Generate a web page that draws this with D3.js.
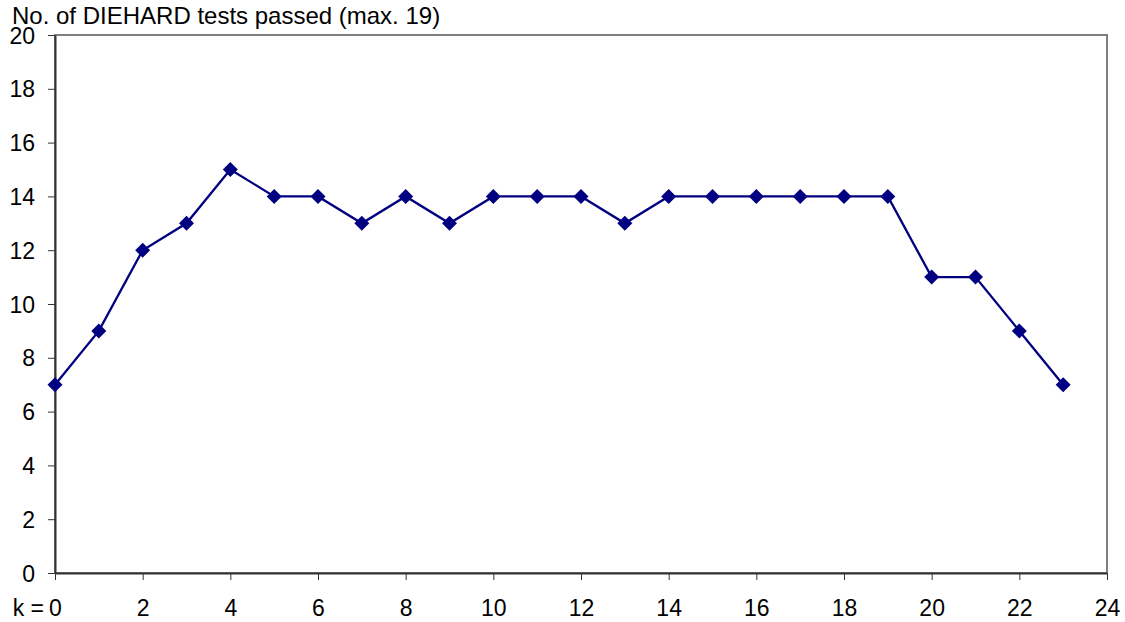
<!DOCTYPE html>
<html>
<head>
<meta charset="utf-8">
<script src="https://cdn.jsdelivr.net/npm/d3@7"></script>
<style>
  body { margin: 0; background: #fff; }
  text { font-family: "Liberation Sans", Arial, sans-serif; }
</style>
</head>
<body>
<div id="chart"></div>
<script>

// data
var kValues = [0, 1, 2, 3, 4, 5, 6, 7, 8, 9, 10, 11, 12, 13, 14, 15, 16, 17, 18, 19, 20, 21, 22, 23];
var testsPassed = [7, 9, 12, 13, 15, 14, 14, 13, 14, 13, 14, 14, 14, 13, 14, 14, 14, 14, 14, 14, 11, 11, 9, 7];
var xTicks = [0, 2, 4, 6, 8, 10, 12, 14, 16, 18, 20, 22, 24];
var yTicks = [0, 2, 4, 6, 8, 10, 12, 14, 16, 18, 20];
var yTitle = "No. of DIEHARD tests passed (max. 19)";

function init(){

    var w = 1125;
    var h = 622;
    var margin = {top: 35, right: 18, bottom: 49, left: 55};
    var fontSize = "23px";

    var svg = d3.select("#chart")
                .append("svg")
                .attr("width", w)
                .attr("height", h);

    var x = d3.scaleLinear()
              .domain([0, 24])
              .range([margin.left, w - margin.right]);

    var y = d3.scaleLinear()
              .domain([0, 20])
              .range([h - margin.bottom, margin.top]);

    // grey frame on top and right
    svg.append("rect")
        .attr("x", x(0))
        .attr("y", y(20))
        .attr("width", x(24) - x(0))
        .attr("height", y(0) - y(20))
        .attr("fill", "none")
        .attr("stroke", "#808080")
        .attr("stroke-width", 2);

    // x axis
    var xAxis = svg.append("g")
        .attr("transform", "translate(0," + y(0) + ")")
        .call(d3.axisBottom(x).tickValues(xTicks).tickSize(7).tickSizeOuter(0));

    // y axis
    var yAxis = svg.append("g")
        .attr("transform", "translate(" + x(0) + ",0)")
        .call(d3.axisLeft(y).tickValues(yTicks).tickSize(7).tickSizeOuter(0).tickPadding(13));

    [xAxis, yAxis].forEach(function(a){
        a.select(".domain").attr("stroke", "#333").attr("stroke-width", 2);
        a.selectAll(".tick line").attr("stroke", "#333").attr("stroke-width", 1);
        a.selectAll(".tick text")
            .attr("font-family", "Liberation Sans, Arial, sans-serif")
            .attr("font-size", fontSize)
            .attr("fill", "#000");
    });

    xAxis.selectAll(".tick text").attr("y", 43).attr("dy", null);
    yAxis.selectAll(".tick text").attr("dy", "0.35em");

    // "k = " before the zero on the x axis
    svg.append("text")
        .text("k =")
        .attr("x", x(0) - 11)
        .attr("y", y(0) + 43)
        .attr("text-anchor", "end")
        .attr("font-size", fontSize)
        .attr("fill", "#000");

    // title
    svg.append("text")
        .text(yTitle)
        .attr("x", 12)
        .attr("y", 23.5)
        .attr("font-size", "24px")
        .attr("fill", "#000");

    var line = d3.line()
        .x(function(d, i) { return x(kValues[i]); })
        .y(function(d) { return y(d); });

    svg.append("path")
        .datum(testsPassed)
        .attr("d", line)
        .attr("fill", "none")
        .attr("stroke", "#000080")
        .attr("stroke-width", 2.3);

    // diamond markers
    svg.selectAll("path.marker")
        .data(testsPassed)
        .enter()
        .append("path")
        .attr("class", "marker")
        .attr("d", "M0,-7.5L7.5,0L0,7.5L-7.5,0Z")
        .attr("transform", function(d, i) {
            return "translate(" + x(kValues[i]) + "," + y(d) + ")";
        })
        .attr("fill", "#000080");
}

window.onload = init;
</script>
</body>
</html>
